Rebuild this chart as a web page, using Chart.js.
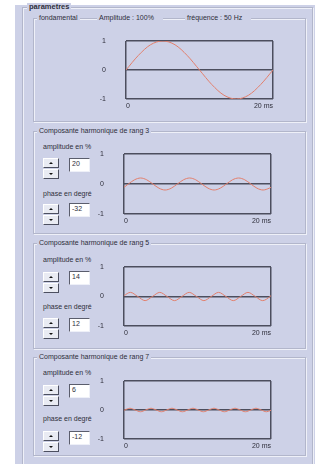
<!DOCTYPE html>
<html><head><meta charset="utf-8">
<script src="https://cdn.jsdelivr.net/npm/chart.js@4.4.0/dist/chart.umd.min.js"></script>
<style>
html,body{margin:0;padding:0;background:#fff;width:323px;height:464px;overflow:hidden;font-family:"Liberation Sans",Arial,sans-serif;color:#2e2e3a;}
#main{position:absolute;left:15px;top:5px;width:300px;height:470px;background:#cdd1e7;}
.grp{position:absolute;border:1px solid #b2b6cb;box-shadow:inset 1px 1px 0 #eef0f8,1px 1px 0 #eef0f8;}
.lbl{position:absolute;font-size:7px;line-height:8px;height:8px;background:#cdd1e7;padding:0 2px;white-space:nowrap;}
.txt{position:absolute;font-size:7px;line-height:8px;white-space:nowrap;}
.btn{position:absolute;width:14px;height:8px;background:#e9ebf3;border:1px solid;border-color:#fff #4c4f60 #4c4f60 #fff;}
.up::after,.dn::after{content:"";position:absolute;left:5px;width:0;height:0;border-left:2px solid transparent;border-right:2px solid transparent;}
.up::after{top:3px;border-bottom:2px solid #111;}
.dn::after{top:3px;border-top:2px solid #111;}
.tb{position:absolute;width:17px;height:12px;background:#fff;border:1px solid;border-color:#5a5d6c #eef0f8 #eef0f8 #5a5d6c;font-size:7px;line-height:9px;padding-left:2px;box-sizing:content-box;}
canvas{position:absolute;}
</style>
</head><body>
<div id="main"></div>
<!-- outer group -->
<div class="grp" style="left:22px;top:7px;width:289px;height:480px;"></div>
<div class="lbl" style="left:27px;top:3px;font-weight:bold;font-size:7.5px;">parametres</div>
<!-- fondamental -->
<div class="grp" style="left:33px;top:18px;width:271px;height:102px;"></div>
<div class="lbl" style="left:37px;top:14px;">fondamental</div>
<div class="lbl" style="left:97px;top:14px;padding-right:9px;" id="ampF"></div>
<div class="lbl" style="left:185px;top:14px;padding-right:9px;" id="freqF"></div>

<!-- rang 3 -->
<div class="grp" style="left:33px;top:131px;width:271px;height:101px;"></div>
<div class="lbl" style="left:37px;top:127px;" id="t3"></div>
<div class="txt" style="left:43px;top:143px;">amplitude en %</div>
<div class="btn up" style="left:43px;top:158px;"></div>
<div class="btn dn" style="left:43px;top:169px;"></div>
<div class="tb" style="left:69px;top:158px;" id="a3"></div>
<div class="txt" style="left:43px;top:190px;">phase en degré</div>
<div class="btn up" style="left:43px;top:204px;"></div>
<div class="btn dn" style="left:43px;top:215px;"></div>
<div class="tb" style="left:69px;top:203px;" id="p3"></div>

<!-- rang 5 -->
<div class="grp" style="left:33px;top:243px;width:271px;height:104px;"></div>
<div class="lbl" style="left:37px;top:239px;" id="t5"></div>
<div class="txt" style="left:43px;top:256px;">amplitude en %</div>
<div class="btn up" style="left:43px;top:272px;"></div>
<div class="btn dn" style="left:43px;top:283px;"></div>
<div class="tb" style="left:69px;top:271px;" id="a5"></div>
<div class="txt" style="left:43px;top:303px;">phase en degré</div>
<div class="btn up" style="left:43px;top:318px;"></div>
<div class="btn dn" style="left:43px;top:329px;"></div>
<div class="tb" style="left:69px;top:318px;" id="p5"></div>

<!-- rang 7 -->
<div class="grp" style="left:33px;top:357px;width:271px;height:97px;"></div>
<div class="lbl" style="left:37px;top:353px;" id="t7"></div>
<div class="txt" style="left:43px;top:369px;">amplitude en %</div>
<div class="btn up" style="left:43px;top:385px;"></div>
<div class="btn dn" style="left:43px;top:396px;"></div>
<div class="tb" style="left:69px;top:384px;" id="a7"></div>
<div class="txt" style="left:43px;top:415px;">phase en degré</div>
<div class="btn up" style="left:43px;top:431px;"></div>
<div class="btn dn" style="left:43px;top:442px;"></div>
<div class="tb" style="left:69px;top:431px;" id="p7"></div>

<canvas id="c1" width="181" height="78" style="left:96px;top:35px;width:181px;height:78px;"></canvas>
<canvas id="c3" width="181" height="80" style="left:94px;top:148px;width:181px;height:80px;"></canvas>
<canvas id="c5" width="181" height="79" style="left:94px;top:261px;width:181px;height:79px;"></canvas>
<canvas id="c7" width="181" height="78" style="left:94px;top:375px;width:181px;height:78px;"></canvas>

<script>
// ---- data ----
const ranks = [3, 5, 7];
const amplitudesPct = [20, 14, 6];
const phasesDeg = [-32, 12, -12];
const fundAmplitude = '100%';
const fundFrequency = '50 Hz';

const xTickValues = [0, 20];
const xTickLabels = ['0', '20 ms'];
const yTickValues = [-1, 0, 1];
const yTickLabels = ['-1', '0', '1'];

const fundTimes = [0,1.67,3.33,5,6.67,8.33,10,11.67,13.33,15,16.67,18.33,20];
const fundValues = [0,0.5,0.87,1,0.87,0.5,0,-0.5,-0.87,-1,-0.87,-0.5,0];

const h3Times = [0,0.59,1.43,2.26,3.09,3.93,4.76,5.59,6.43,7.26,8.09,8.93,9.76,10.59,11.43,12.26,13.09,13.93,14.76,15.59,16.43,17.26,18.09,18.93,19.76,20];
const h3Values = [-0.11,0,0.14,0.2,0.14,0,-0.14,-0.2,-0.14,0,0.14,0.2,0.14,0,-0.14,-0.2,-0.14,0,0.14,0.2,0.14,0,-0.14,-0.2,-0.14,-0.11];

const h5Times = [0,0.87,1.87,2.87,3.87,4.87,5.87,6.87,7.87,8.87,9.87,10.87,11.87,12.87,13.87,14.87,15.87,16.87,17.87,18.87,19.87,20];
const h5Values = [0.03,0.14,0,-0.14,0,0.14,0,-0.14,0,0.14,0,-0.14,0,0.14,0,-0.14,0,0.14,0,-0.14,0,0.03];

const h7Times = [0,0.1,0.81,1.52,2.24,2.95,3.67,4.38,5.1,5.81,6.52,7.24,7.95,8.67,9.38,10.1,10.81,11.52,12.24,12.95,13.67,14.38,15.1,15.81,16.52,17.24,17.95,18.67,19.38,20];
const h7Values = [-0.01,0,0.06,0,-0.06,0,0.06,0,-0.06,0,0.06,0,-0.06,0,0.06,0,-0.06,0,0.06,0,-0.06,0,0.06,0,-0.06,0,0.06,0,-0.06,-0.01];

// ---- texts ----
document.getElementById('ampF').textContent = 'Amplitude : ' + fundAmplitude;
document.getElementById('freqF').textContent = 'fréquence : ' + fundFrequency;
ranks.forEach((r, i) => {
  document.getElementById('t' + r).textContent = 'Composante harmonique de rang ' + r;
  document.getElementById('a' + r).textContent = String(amplitudesPct[i]);
  document.getElementById('p' + r).textContent = String(phasesDeg[i]);
});

const FONT = {size: 7, family: '"Liberation Sans", Arial, sans-serif'};
const GRID = {color: '#4c4e5e', lineWidth: 1.5, drawTicks: false};

function makeChart(id, times, values) {
  new Chart(document.getElementById(id), {
    type: 'line',
    data: {datasets: [{
      data: times.map((t, i) => ({x: t, y: values[i]})),
      borderColor: '#e27f6c', borderWidth: 1, pointRadius: 0,
      cubicInterpolationMode: 'monotone', fill: false
    }]},
    options: {
      responsive: false, animation: false, events: [],
      layout: {padding: {top: 6, right: 4, left: 0, bottom: 0}},
      plugins: {legend: {display: false}, tooltip: {enabled: false}},
      scales: {
        x: {
          type: 'linear', min: 0, max: 20,
          afterBuildTicks: s => { s.ticks = xTickValues.map(v => ({value: v})); },
          afterFit: s => { s.height = 14; s.paddingLeft = 0; s.paddingRight = 0; },
          grid: GRID, border: {display: false},
          ticks: {align: 'inner', padding: 3, maxRotation: 0, autoSkip: false,
                  font: FONT, color: '#2e2e3a', callback: (v, i) => xTickLabels[i]}
        },
        y: {
          min: -1, max: 1,
          afterBuildTicks: s => { s.ticks = yTickValues.map(v => ({value: v})); },
          afterFit: s => { s.width = 30; s.paddingTop = 0; s.paddingBottom = 0; },
          grid: GRID, border: {display: false},
          ticks: {padding: 20, crossAlign: 'near', autoSkip: false,
                  font: FONT, color: '#2e2e3a', callback: (v, i) => yTickLabels[i]}
        }
      }
    }
  });
}

makeChart('c1', fundTimes, fundValues);
makeChart('c3', h3Times, h3Values);
makeChart('c5', h5Times, h5Values);
makeChart('c7', h7Times, h7Values);
</script>
</body></html>
